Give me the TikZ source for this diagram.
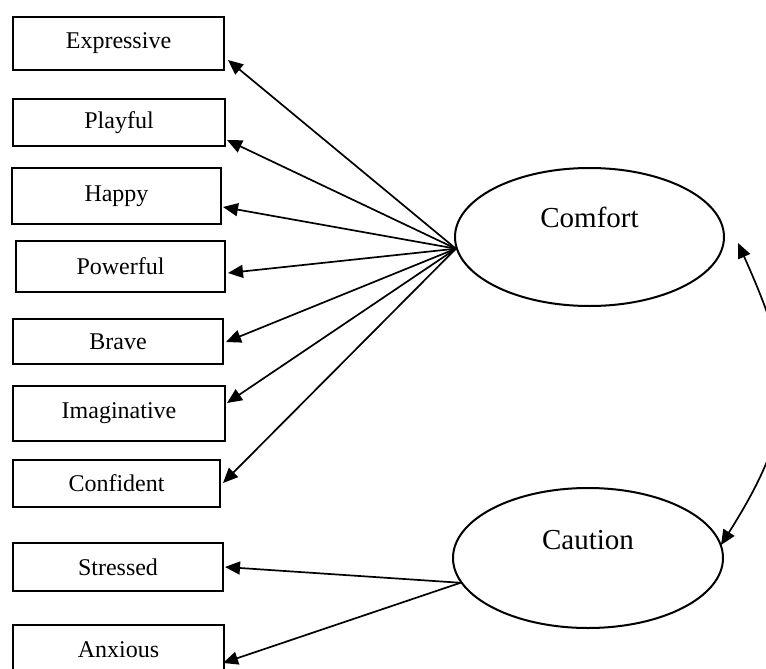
\documentclass[tikz,border=0pt]{standalone}
\usepackage{fontspec}
\setmainfont{Liberation Serif}
\usetikzlibrary{arrows.meta,shapes.geometric}

\begin{document}
\begin{tikzpicture}[x=1pt,y=-1pt,line width=1.7pt,
  item/.style={draw,rectangle,inner sep=0pt,line width=2pt,font=\fontsize{24}{28}\selectfont},
  factor/.style={draw,ellipse,inner sep=0pt,line width=2pt,minimum width=269pt,minimum height=138pt},
  factortext/.style={inner sep=0pt,font=\fontsize{29}{34}\selectfont},
  loadarrow/.style={-{Triangle[length=15pt,width=13pt]}},
  covarrow/.style={{Triangle[length=15pt,width=13pt]}-{Triangle[length=15pt,width=13pt]}}]
\useasboundingbox (0,0) rectangle (766,669);
\clip (0,0) rectangle (766,669);
\node[item,minimum width=211pt,minimum height=53pt] (expressive) at (118.5,43.5) {Expressive};
\node[item,minimum width=212pt,minimum height=47pt] (playful) at (119,122.5) {Playful};
\node[item,minimum width=209pt,minimum height=56pt] (happy) at (116.5,196) {Happy};
\node[item,minimum width=209pt,minimum height=51pt] (powerful) at (120.5,266.5) {Powerful};
\node[item,minimum width=210pt,minimum height=45pt] (brave) at (118,341.5) {Brave};
\node[item,minimum width=212pt,minimum height=55pt] (imaginative) at (119,413.5) {Imaginative};
\node[item,minimum width=207pt,minimum height=47pt] (confident) at (116.5,483.5) {Confident};
\node[item,minimum width=210pt,minimum height=48pt] (stressed) at (118,567) {Stressed};
\node[item,minimum width=211pt,minimum height=50pt] (anxious) at (118.5,650) {Anxious};
\node[factor] (comfort) at (589.5,237) {};
\node[factortext] (comforttext) at ([yshift=20pt]comfort.center) {Comfort};
\node[factor,minimum width=270pt,minimum height=140pt] (caution) at (588,558) {};
\node[factortext] (cautiontext) at ([yshift=18pt]caution.center) {Caution};
\coordinate (comfortfan) at (comfort.185);
\coordinate (cautionfan) at (caution.191);
\draw[loadarrow] (comfortfan) -- ([shift={(3,16.5)}]expressive.east);
\draw[loadarrow] (comfortfan) -- ([shift={(1,17.5)}]playful.east);
\draw[loadarrow] (comfortfan) -- ([shift={(1,11)}]happy.east);
\draw[loadarrow] (comfortfan) -- ([shift={(2,6.5)}]powerful.east);
\draw[loadarrow] (comfortfan) -- ([shift={(2,0.5)}]brave.east);
\draw[loadarrow] (comfortfan) -- ([shift={(1,-10.5)}]imaginative.east);
\draw[loadarrow] (comfortfan) -- ([shift={(2,-0.5)}]confident.east);
\draw[loadarrow] (cautionfan) -- ([shift={(1,0)}]stressed.east);
\draw[loadarrow] (cautionfan) -- ([shift={(-2,13)}]anxious.east);
\draw[covarrow] ([shift={(13,6)}]comfort.east) .. controls (795,370) and (800,420) .. ([shift={(-3,-13)}]caution.east);
\end{tikzpicture}
\end{document}
